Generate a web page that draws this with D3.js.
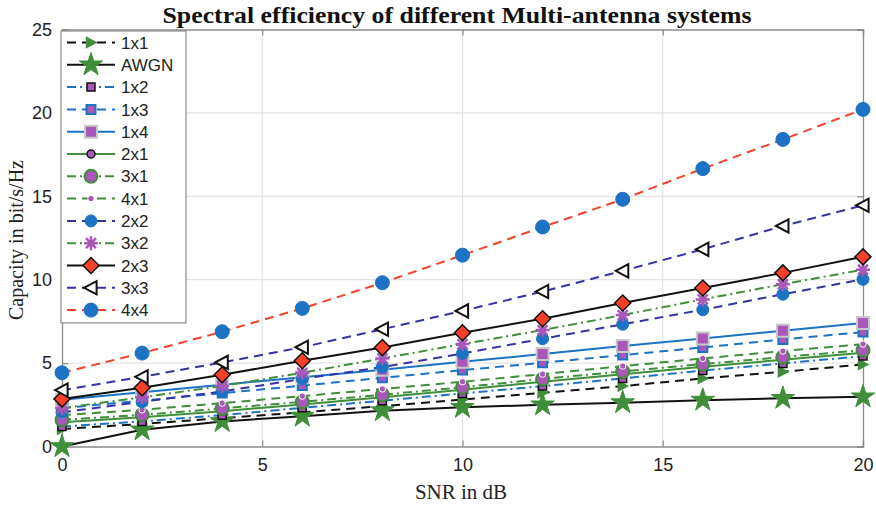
<!DOCTYPE html>
<html><head><meta charset="utf-8">
<script src="https://cdn.jsdelivr.net/npm/d3@7"></script>
<style>body{margin:0;background:#fff}svg{display:block}</style>
</head><body>
<svg id="c" width="876" height="505"></svg>
<script>
// ---------- data ----------
const snr = [0, 2, 4, 6, 8, 10, 12, 14, 16, 18, 20];
const xTicks = [0, 5, 10, 15, 20];
const yTicks = [0, 5, 10, 15, 20, 25];
const seriesNames = ["1x1","AWGN","1x2","1x3","1x4","2x1","3x1","4x1","2x2","3x2","2x3","3x3","4x4"];
const cap1x1 = [1.05, 1.35, 1.70, 2.05, 2.42, 2.82, 3.22, 3.62, 4.08, 4.48, 4.92];
const capAWGN = [0.00, 1.00, 1.50, 1.82, 2.15, 2.35, 2.50, 2.63, 2.78, 2.89, 2.98];
const cap1x2 = [1.20, 1.50, 1.88, 2.32, 2.75, 3.18, 3.62, 4.08, 4.55, 4.98, 5.42];
const cap1x3 = [2.30, 2.75, 3.20, 3.65, 4.12, 4.58, 5.02, 5.48, 5.94, 6.42, 6.86];
const cap1x4 = [2.80, 3.25, 3.70, 4.15, 4.60, 5.08, 5.54, 6.02, 6.48, 6.94, 7.40];
const cap2x1 = [1.45, 1.75, 2.12, 2.52, 2.95, 3.40, 3.88, 4.33, 4.78, 5.20, 5.62];
const cap3x1 = [1.60, 1.90, 2.28, 2.68, 3.10, 3.55, 4.05, 4.50, 4.94, 5.36, 5.78];
const cap4x1 = [1.88, 2.20, 2.60, 3.02, 3.45, 3.88, 4.34, 4.82, 5.28, 5.72, 6.14];
const cap2x2 = [2.05, 2.68, 3.30, 4.05, 4.76, 5.58, 6.46, 7.33, 8.20, 9.13, 10.02];
const cap3x2 = [2.30, 2.95, 3.63, 4.42, 5.28, 6.14, 6.98, 7.88, 8.82, 9.73, 10.60];
const cap2x3 = [2.85, 3.52, 4.30, 5.14, 5.93, 6.82, 7.66, 8.60, 9.50, 10.41, 11.37];
const cap3x3 = [3.38, 4.18, 5.04, 5.95, 7.03, 8.13, 9.29, 10.53, 11.82, 13.22, 14.46];
const cap4x4 = [4.42, 5.60, 6.88, 8.28, 9.82, 11.47, 13.16, 14.82, 16.66, 18.41, 20.21];
const seriesValues = [cap1x1, capAWGN, cap1x2, cap1x3, cap1x4, cap2x1, cap3x1, cap4x1, cap2x2, cap3x2, cap2x3, cap3x3, cap4x4];

// ---------- styles ----------
const GREEN = "#3f8f3a", BLUE = "#1c72c4", NAVY = "#3333a6", RED = "#f5402a", PURPLE = "#a957b8";
const DASH = "9,6", DASHDOT = "9,4,2,4";
const styles = {
  "1x1": {color:"#111", dash:DASH, marker:"triRight", ms:6.5, mf:GREEN, me:"none", mw:0},
  "AWGN":{color:"#111", dash:null, marker:"star", ms:170, mf:GREEN, me:GREEN, mw:1},
  "1x2": {color:BLUE, dash:DASHDOT, marker:"square", ms:4, mf:PURPLE, me:"#111", mw:1.5},
  "1x3": {color:BLUE, dash:DASH, marker:"square", ms:4.5, mf:PURPLE, me:BLUE, mw:2},
  "1x4": {color:BLUE, dash:null, marker:"square", ms:6, mf:PURPLE, me:"#c8c8c8", mw:2},
  "2x1": {color:GREEN, dash:null, marker:"circle", ms:4, mf:PURPLE, me:"#111", mw:1.5},
  "3x1": {color:GREEN, dash:DASHDOT, marker:"circle", ms:6.5, mf:PURPLE, me:GREEN, mw:2},
  "4x1": {color:GREEN, dash:DASH, marker:"circle", ms:3.2, mf:PURPLE, me:"#fff", mw:1},
  "2x2": {color:NAVY, dash:DASH, marker:"circle", ms:6, mf:BLUE, me:BLUE, mw:1},
  "3x2": {color:GREEN, dash:DASHDOT, marker:"asterisk", ms:7, mf:"none", me:PURPLE, mw:2.5},
  "2x3": {color:"#111", dash:null, marker:"diamond", ms:8, mf:RED, me:"#111", mw:1.5},
  "3x3": {color:NAVY, dash:DASH, marker:"triLeft", ms:7, mf:"#fff", me:"#111", mw:2},
  "4x4": {color:RED, dash:DASH, marker:"circle", ms:7, mf:BLUE, me:BLUE, mw:1}
};

function markerPath(type, s){
  switch(type){
    case "circle": return d3.symbol(d3.symbolCircle, Math.PI*s*s)();
    case "square": return `M${-s},${-s}H${s}V${s}H${-s}Z`;
    case "diamond": return `M0,${-s}L${s},0L0,${s}L${-s},0Z`;
    case "triRight": return `M${s},0L${-s*0.8},${-s*0.95}L${-s*0.8},${s*0.95}Z`;
    case "triLeft": return `M${-s},0L${s*0.8},${-s*0.95}L${s*0.8},${s*0.95}Z`;
    case "star": return d3.symbol(d3.symbolStar, s)();
    case "asterisk": {
      const d = s*0.707;
      return `M${-s},0H${s}M0,${-s}V${s}M${-d},${-d}L${d},${d}M${-d},${d}L${d},${-d}`;
    }
  }
}

// ---------- layout ----------
const svg = d3.select("#c");
const L = 62, R = 863, T = 29.5, B = 446.5;
const x = d3.scaleLinear().domain([0, 20]).range([L, R]);
const y = d3.scaleLinear().domain([0, 25]).range([B, T]);

// grid
const grid = svg.append("g");
grid.selectAll(".gx").data(xTicks.slice(1, -1)).join("line")
  .attr("x1", d => x(d)).attr("x2", d => x(d)).attr("y1", T).attr("y2", B)
  .attr("stroke", "#e3e3e3").attr("stroke-width", 1.2);
grid.selectAll(".gy").data(yTicks.slice(1, -1)).join("line")
  .attr("x1", L).attr("x2", R).attr("y1", d => y(d)).attr("y2", d => y(d))
  .attr("stroke", "#e3e3e3").attr("stroke-width", 1.2);

// axes
const axB = svg.append("g").attr("transform", `translate(0,${B})`)
  .call(d3.axisBottom(x).tickValues(xTicks).tickSize(-6).tickPadding(12).tickFormat(d3.format("d")));
const axL = svg.append("g").attr("transform", `translate(${L},0)`)
  .call(d3.axisLeft(y).tickValues(yTicks).tickSize(-6).tickPadding(10).tickFormat(d3.format("d")));
const axT = svg.append("g").attr("transform", `translate(0,${T})`)
  .call(d3.axisTop(x).tickValues(xTicks).tickSize(-6).tickFormat(""));
const axR = svg.append("g").attr("transform", `translate(${R},0)`)
  .call(d3.axisRight(y).tickValues(yTicks).tickSize(-6).tickFormat(""));
[axB, axL, axT, axR].forEach(a => {
  a.selectAll("path").attr("stroke", "#8a8a8a").attr("stroke-width", 1.3);
  a.selectAll("line").attr("stroke", "#8a8a8a").attr("stroke-width", 1.2);
  a.selectAll("text").attr("fill", "#222").attr("font-family", "Liberation Sans, Arial, sans-serif").attr("font-size", 18);
});
axB.selectAll("text").attr("dy", "0.71em");

// series
const line = d3.line().x((d, i) => x(snr[i])).y(d => y(d));
const plot = svg.append("g");
seriesNames.forEach((name, k) => {
  const st = styles[name];
  const vals = seriesValues[k];
  const g = plot.append("g");
  g.append("path").attr("d", line(vals)).attr("fill", "none")
    .attr("stroke", st.color).attr("stroke-width", 2)
    .attr("stroke-dasharray", st.dash);
  g.selectAll("path.m").data(vals).join("path").attr("class", "m")
    .attr("transform", (d, i) => `translate(${x(snr[i])},${y(d)})`)
    .attr("d", markerPath(st.marker, st.ms))
    .attr("fill", st.mf).attr("stroke", st.me).attr("stroke-width", st.mw)
    .attr("stroke-linejoin", "miter");
});

// legend
const lg = svg.append("g");
const lgX = 61, lgY = 31, lgW = 125, lgRow = 22.3;
lg.append("rect").attr("x", lgX).attr("y", lgY).attr("width", lgW).attr("height", lgRow*seriesNames.length + 2)
  .attr("fill", "#fff").attr("stroke", "#8a8a8a").attr("stroke-width", 1.2);
seriesNames.forEach((name, k) => {
  const st = styles[name];
  const cy = lgY + 11.5 + k*lgRow;
  lg.append("line").attr("x1", 67).attr("x2", 115).attr("y1", cy).attr("y2", cy)
    .attr("stroke", st.color).attr("stroke-width", 2).attr("stroke-dasharray", st.dash);
  lg.append("path").attr("transform", `translate(91,${cy})`).attr("d", markerPath(st.marker, st.ms))
    .attr("fill", st.mf).attr("stroke", st.me).attr("stroke-width", st.mw);
  lg.append("text").attr("x", 121).attr("y", cy).attr("dy", "0.36em")
    .attr("font-family", "Liberation Sans, Arial, sans-serif").attr("font-size", 17).attr("fill", "#222")
    .text(name);
});

// titles
svg.append("text").attr("x", 457).attr("y", 23).attr("text-anchor", "middle")
  .attr("font-family", "Liberation Serif, Times New Roman, serif").attr("font-weight", "bold")
  .attr("font-size", 23).attr("fill", "#111")
  .attr("textLength", 589).attr("lengthAdjust", "spacingAndGlyphs")
  .text("Spectral efficiency of different Multi-antenna systems");
svg.append("text").attr("x", 461).attr("y", 499).attr("text-anchor", "middle")
  .attr("font-family", "Liberation Serif, Times New Roman, serif")
  .attr("font-size", 21).attr("fill", "#222").text("SNR in dB");
svg.append("text").attr("transform", `translate(23,240) rotate(-90)`).attr("text-anchor", "middle")
  .attr("font-family", "Liberation Serif, Times New Roman, serif")
  .attr("font-size", 20).attr("fill", "#222").text("Capacity in bit/s/Hz");
</script>
</body></html>
